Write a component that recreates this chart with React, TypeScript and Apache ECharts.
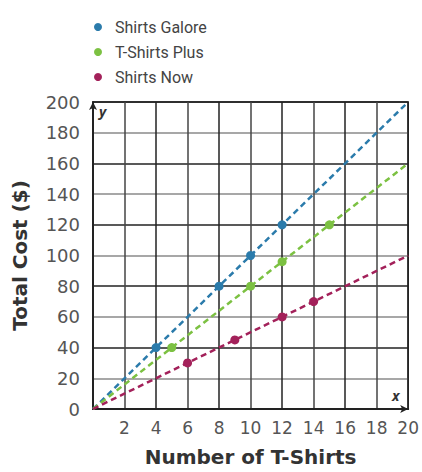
import React, { useEffect, useRef } from "react";
import * as echarts from "echarts";

const seriesNames = ["Shirts Galore", "T-Shirts Plus", "Shirts Now"];
const colors = ["#2b7bab", "#7cc142", "#a3215a"];
// points (shirts, cost)
const galore: number[][] = [[0, 0], [4, 40], [8, 80], [10, 100], [12, 120], [20, 200]];
const plus: number[][] = [[0, 0], [5, 40], [10, 80], [12, 96], [15, 120], [20, 160]];
const now: number[][] = [[0, 0], [6, 30], [9, 45], [12, 60], [14, 70], [20, 100]];
const allData = [galore, plus, now];
const xTicks = [0, 2, 4, 6, 8, 10, 12, 14, 16, 18, 20];
const yTicks = [0, 20, 40, 60, 80, 100, 120, 140, 160, 180, 200];

export default function App() {
  const ref = useRef<HTMLDivElement>(null);
  useEffect(() => {
    if (!ref.current) return;
    const chart = echarts.init(ref.current, null, { renderer: "svg" });
    const legendFont = "'Roboto', sans-serif";
    const tickFont = "'DejaVu Sans', sans-serif";
    const titleFont = "'DejaVu Sans', sans-serif";
    chart.setOption({
      animation: false,
      backgroundColor: "#ffffff",
      legend: {
        orient: "vertical",
        left: 89,
        top: 14,
        itemGap: 9,
        icon: "circle",
        itemWidth: 8,
        itemHeight: 8,
        textStyle: { fontSize: 16, color: "#444", fontFamily: legendFont, padding: [0, 0, 0, 8] },
        data: seriesNames,
      },
      grid: {
        left: 93,
        right: 13,
        top: 102,
        bottom: 59,
        show: true,
        borderColor: "#222",
        borderWidth: 1.5,
      },
      xAxis: {
        type: "value",
        min: xTicks[0],
        max: xTicks[xTicks.length - 1],
        interval: 2,
        name: "Number of T-Shirts",
        nameLocation: "middle",
        nameGap: 38,
        nameTextStyle: { fontSize: 20, fontWeight: "bold", color: "#333", fontFamily: titleFont },
        axisLine: { show: true, lineStyle: { color: "#222", width: 2 }, symbol: ["none", "arrow"], symbolSize: [6, 8] },
        axisTick: { show: false },
        axisLabel: {
          margin: 10,
          fontSize: 17,
          color: "#555",
          fontFamily: tickFont,
          formatter: (v: number) => (v === 0 ? "" : String(v)),
        },
        splitLine: { show: true, lineStyle: { color: ["#222", "#444"], width: 1.5 } },
      },
      yAxis: {
        type: "value",
        min: yTicks[0],
        max: yTicks[yTicks.length - 1],
        interval: 20,
        name: "Total Cost ($)",
        nameLocation: "middle",
        nameGap: 63,
        nameTextStyle: { fontSize: 20, fontWeight: "bold", color: "#333", fontFamily: titleFont },
        axisLine: { show: true, lineStyle: { color: "#222", width: 2 }, symbol: ["none", "arrow"], symbolSize: [6, 8] },
        axisTick: { show: false },
        axisLabel: { margin: 13, fontSize: 18, color: "#555", fontFamily: tickFont },
        splitLine: { show: true, lineStyle: { color: ["#222", "#8a8a8a"], width: 1.6 } },
      },
      graphic: [
        { type: "text", left: 99, top: 104, style: { text: "y", font: "italic bold 14px 'Open Sans', sans-serif", fill: "#333" } },
        { type: "text", left: 392, top: 388, style: { text: "x", font: "italic bold 14px 'Open Sans', sans-serif", fill: "#333" } },
      ],
      series: allData.map((d, i) => ({
        name: seriesNames[i],
        type: "line",
        color: colors[i],
        symbol: "circle",
        symbolSize: 9,
        lineStyle: { type: [6, 4], width: 2.5, color: colors[i] },
        itemStyle: { color: colors[i] },
        data: d.map((p, j) => ({
          value: p,
          symbol: j === 0 || j === d.length - 1 ? "none" : "circle",
        })),
        z: 3,
      })),
    });
    return () => chart.dispose();
  }, []);
  return <div ref={ref} style={{ width: 422, height: 472, position: "absolute", left: 0, top: 0 }} />;
}
